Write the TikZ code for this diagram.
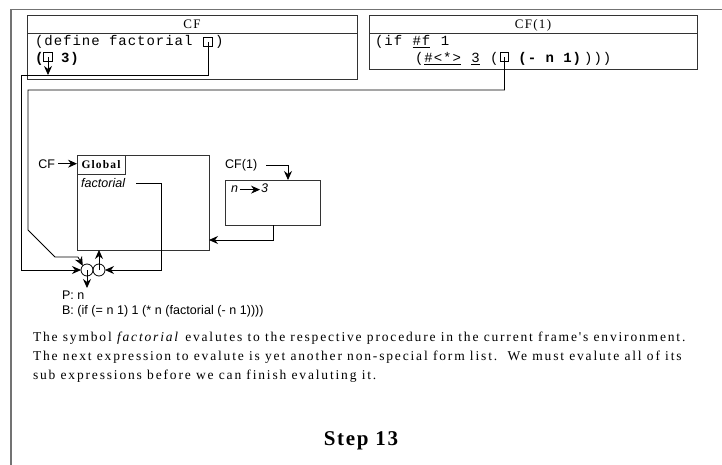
\documentclass[tikz,border=0pt]{standalone}
\usepackage{fontspec}
\setmainfont{Liberation Serif}
\setsansfont{Liberation Sans}
\newfontfamily\monof[LetterSpace=7]{Liberation Mono}
\newfontfamily\serifsp[LetterSpace=13.6]{Liberation Serif}
\newfontfamily\serifhd[LetterSpace=10]{Liberation Serif}
\newfontfamily\stepf[LetterSpace=8]{Liberation Serif}
\newfontfamily\sanssp[LetterSpace=0.5]{Liberation Sans}
\usetikzlibrary{arrows.meta}
\begin{document}
\begin{tikzpicture}[x=1pt,y=-1pt,
  every node/.style={inner sep=0pt, outer sep=0pt},
  box/.style={draw=black!80, line width=0.8pt},
  ptrbox/.style={draw=black, line width=0.8pt, minimum width=8.5pt, minimum height=8.5pt, fill=white},
  conn/.style={line width=0.8pt, black},
  arr/.style={conn, -{Stealth[length=9pt,width=8pt,inset=3pt]}},
  mono/.style={font=\monof\fontsize{14}{16}\selectfont, anchor=base west},
  hdr/.style={font=\serifhd\fontsize{13}{15}\selectfont, anchor=base},
  sans/.style={font=\sanssp\fontsize{12.5}{15}\selectfont, anchor=base west},
  sansit/.style={font=\sanssp\itshape\fontsize{12.5}{15}\selectfont, anchor=base west},
  para/.style={font=\serifsp\fontsize{13.5}{16}\selectfont, anchor=base west},
  bub/.style={circle, draw=black, line width=0.8pt, minimum size=12pt}
]
\useasboundingbox (0,0) rectangle (722,465);
% outer frame
\draw[line width=1.2pt, black!55] (11,465) -- (11,9.5) -- (722,9.5);

% CF box
\draw[box] (27,15) rectangle (357,79);
\draw[box] (27,33) -- (357,33);
\node[hdr] (cfh) at (192,29) {CF};
\node[mono] (d1) at (35,46) {(define factorial};
\node[mono] (d1b) at (215,46) {)};
\node[mono] (d2a) at (35,63) {\bfseries (};
\node[mono] (d2b) at (61,63) {\bfseries 3)};

% CF(1) box
\draw[box] (369,15) rectangle (697,69);
\draw[box] (369,33) -- (697,33);
\node[hdr] (cf1h) at (533,29) {CF(1)};
\node[mono] (e1a) at (375,46) {(if};
\node[mono] (e1b) at (412.6,46) {\underline{\#f}};
\node[mono] (e1c) at (440.8,46) {1};
\node[mono] (e2a) at (415,63) {(};
\node[mono] (e2b) at (424.4,63) {\underline{\#<*>}};
\node[mono] (e2c) at (471.4,63) {\underline{3}};
\node[mono] (e2d) at (490.2,63) {(};
\node[mono] (e2e) at (518.4,63) {\bfseries (- n 1)};
\node[mono] (e2f) at (584.2,63) {)))};

% coordinates
\coordinate (c1) at (21,75);
\coordinate (c2) at (28,90);
\coordinate (c3) at (28,230);
\coordinate (c4) at (55,257);
\coordinate (c5) at (78,257);
\coordinate (c6) at (161,183);
\coordinate (c6a) at (136,183);
\coordinate (c7) at (273,240);
\coordinate (c8) at (288,165);
\coordinate (c9) at (266,165);
\coordinate (pb) at (87,288);

% Global frame
\node[box, anchor=north west, minimum width=132pt, minimum height=95pt] (glob) at (77,155) {};
\node[box, anchor=north west, minimum width=48pt, minimum height=19pt, font=\serifhd\bfseries\fontsize{11.5}{13}\selectfont] (globl) at (77,155) {Global};
\node[sans, anchor=base east] (cfl) at (55,168) {CF};
\node[sansit] (fact) at (81,187) {factorial};

% CF(1) frame
\node[box, anchor=north west, minimum width=95pt, minimum height=45pt] (fr1) at (225,180) {};
\node[sans] (cf1l) at (225,169) {CF(1)};
\node[sansit] (nn) at (231,193) {n};
\node[sansit] (n3) at (261,193) {3};

% bubbles
\node[bub] (bl) at (87,270) {};
\node[bub] (br) at (99,270) {};

% P / B
\node[sans] (pp) at (62,299) {P: n};
\node[sans] (bb) at (62,314) {B: (if (= n 1) 1 (* n (factorial (- n 1))))};

% connectors
\draw[arr] (208,42) |- (c1) |- (bl.west);
\draw[conn] (504.5,57) |- (c2) -- (c3) -- (c4) -- (c5);
\draw[arr] (c5) -- (bl.135);
\draw[arr] (c6a) -- (c6) |- (br.east);
\draw[arr] (br.center) -- (br.center |- glob.south);
\draw[arr] (bl.center) -- (pb);
\draw[arr] ([xshift=3pt]cfl.east) -- (globl.west |- cfl.east);
\draw[arr] (c9) -- (c8) -- (c8 |- fr1.north);
\draw[arr] ([xshift=2pt]nn.east) -- ([xshift=-1pt]n3.west |- nn.east);
\draw[arr] (fr1.south -| c7) -- (c7) -- (c7 -| glob.east);

% pointer boxes (drawn over lines)
\node[ptrbox] (b1) at (208,42) {};
\node[ptrbox] (b2) at (48,57) {};
\node[ptrbox] (b3) at (504.5,57) {};
\draw[conn] (b1.center) -- (b1.south);
\draw[conn] (b3.center) -- (b3.south);
\draw[arr] (b2.center) -- (48,75);
\draw[conn] (bl.center) -- (bl.south);

% paragraph
\node[para] (p1) at (33,341) {The symbol \textit{factorial} evalutes to the respective procedure in the current frame's environment.};
\node[para] (p2) at (33,360) {The next expression to evalute is yet another non-special form list.\ \ We must evalute all of its};
\node[para] (p3) at (33,379) {sub expressions before we can finish evaluting it.};

\node[font=\stepf\bfseries\fontsize{21}{24}\selectfont] (step) at (361,441) {Step 13};
\end{tikzpicture}
\end{document}
